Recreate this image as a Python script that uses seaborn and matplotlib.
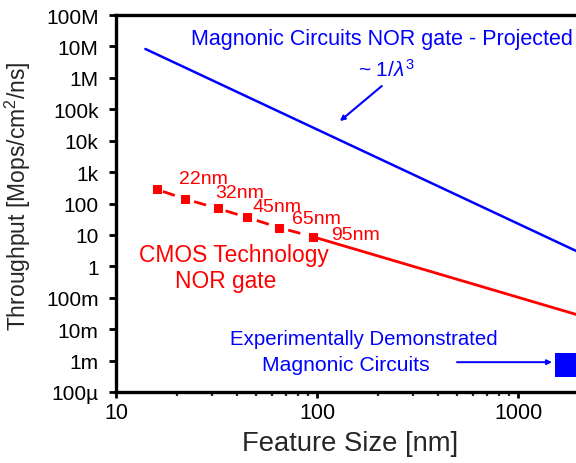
import matplotlib
matplotlib.use("Agg")
import matplotlib.pyplot as plt
import seaborn as sns
import numpy as np
import pandas as pd

# ---- data ----
# Projected magnonic NOR gate throughput (~1/lambda^3 scaling)
magnonic_nm = [14, 2000]
magnonic_tp = [8.3e6, 2.85]

# CMOS NOR gate: technology nodes
cmos_nodes_nm = [16, 22, 32, 45, 65, 95]
cmos_nodes_tp = [280, 140, 70, 36, 17, 8.8]
node_labels = ["22nm", "32nm", "45nm", "65nm", "95nm"]

# CMOS NOR gate extrapolated to larger feature sizes
cmos_ext_nm = [95, 2000]
cmos_ext_tp = [8.8, 0.028]

# Experimentally demonstrated magnonic circuits
demo_nm = [1750]
demo_tp = [7.1e-4]

y_tick_vals = [1e-4, 1e-3, 1e-2, 1e-1, 1, 10, 100, 1e3, 1e4, 1e5, 1e6, 1e7, 1e8]
y_tick_labels = ["100\u00b5", "1m", "10m", "100m", "1", "10", "100",
                 "1k", "10k", "100k", "1M", "10M", "100M"]
x_tick_vals = [10, 100, 1000]
x_tick_labels = ["10", "100", "1000"]

BLUE = "#0000ff"
RED = "#ff0000"

sns.set_style("ticks")
plt.rcParams["font.family"] = ["Liberation Sans", "DejaVu Sans"]
plt.rcParams["mathtext.fontset"] = "custom"
plt.rcParams["mathtext.rm"] = "Liberation Sans"
plt.rcParams["mathtext.it"] = "Liberation Sans:italic"
plt.rcParams["lines.scale_dashes"] = False

fig = plt.figure(figsize=(5.76, 4.64), dpi=100)
W, H = 576, 464
# axes box in pixels: left 116, top 16, bottom 393, three decades of x span 603 px
ax = fig.add_axes([116 / W, 1 - 393 / H, 603 / W, 377 / H])
ax.set_xscale("log")
ax.set_yscale("log")

sns.lineplot(x=magnonic_nm, y=magnonic_tp, ax=ax, color=BLUE, lw=1.8)
sns.lineplot(x=cmos_ext_nm, y=cmos_ext_tp, ax=ax, color=RED, lw=2.0)
sns.lineplot(x=cmos_nodes_nm, y=cmos_nodes_tp, ax=ax, color=RED, lw=2.0,
             linestyle=(19.1, (9.0, 14.6)), marker="s", markersize=5.5,
             markeredgecolor=RED, markerfacecolor=RED)
sns.scatterplot(x=demo_nm, y=demo_tp, ax=ax, color=BLUE, marker="s",
                s=17.3 ** 2, linewidth=0, clip_on=False)

ax.set_xlim(10, 10000)
ax.set_ylim(1e-4, 1e8)
ax.set_yticks(y_tick_vals)
ax.set_yticklabels(y_tick_labels)
ax.set_xticks(x_tick_vals)
ax.set_xticklabels(x_tick_labels)

for side in ["left", "bottom", "top"]:
    ax.spines[side].set_linewidth(2.4)
    ax.spines[side].set_color("black")
ax.spines["right"].set_visible(False)

ax.tick_params(axis="y", which="major", direction="out", length=5, width=2,
               labelsize=15, pad=7.5, colors="black")
ax.tick_params(axis="y", which="minor", direction="out", length=3, width=1.4)
ax.tick_params(axis="x", which="major", direction="out", length=4.5, width=2,
               labelsize=15.5, pad=3, colors="black")
ax.tick_params(axis="x", which="minor", direction="out", length=3, width=1.6)

ax.set_xlabel("Feature Size [nm]", fontsize=19.7)
ax.xaxis.set_label_coords(0.388, -0.1)
ax.set_ylabel("Throughput [Mops/cm$^2$/ns]", fontsize=16.5)
ax.yaxis.set_label_coords(-0.1376, 0.5225)

# annotations
ax.text(23.6, 1.19e7, "Magnonic Circuits NOR gate - Projected", color=BLUE,
        fontsize=15.5, ha="left", va="baseline")
ax.text(160, 1.14e6, r"~ $\mathit{1/\lambda^{3}}$", color=BLUE,
        fontsize=15, ha="left", va="baseline")
ax.annotate("", xy=(130, 4.2e4), xytext=(210, 5.48e5),
            arrowprops=dict(arrowstyle="-|>", color=BLUE, lw=1.5,
                            mutation_scale=7, shrinkA=0, shrinkB=0))

label_pos = [(20.6, 447), (31.1, 160), (47.5, 57.3), (75.1, 23.8), (117.4, 7.35)]
for txt, (lx, ly) in zip(node_labels, label_pos):
    ax.text(lx, ly, txt, color=RED, fontsize=14, ha="left", va="baseline")

ax.text(38.4, 1.47, "CMOS Technology", color=RED, fontsize=16.4,
        ha="center", va="baseline")
ax.text(35.2, 0.218, "NOR gate", color=RED, fontsize=16.4,
        ha="center", va="baseline")

ax.text(795, 3.33e-3, "Experimentally Demonstrated", color=BLUE, fontsize=14.7,
        ha="right", va="baseline")
ax.text(53.2, 4.94e-4, "Magnonic Circuits", color=BLUE, fontsize=15.2,
        ha="left", va="baseline")
ax.annotate("", xy=(1476, 8.9e-4), xytext=(497, 8.9e-4),
            arrowprops=dict(arrowstyle="-|>", color=BLUE, lw=1.4,
                            mutation_scale=7, shrinkA=0, shrinkB=0))

fig.savefig("out.png", dpi=100)
